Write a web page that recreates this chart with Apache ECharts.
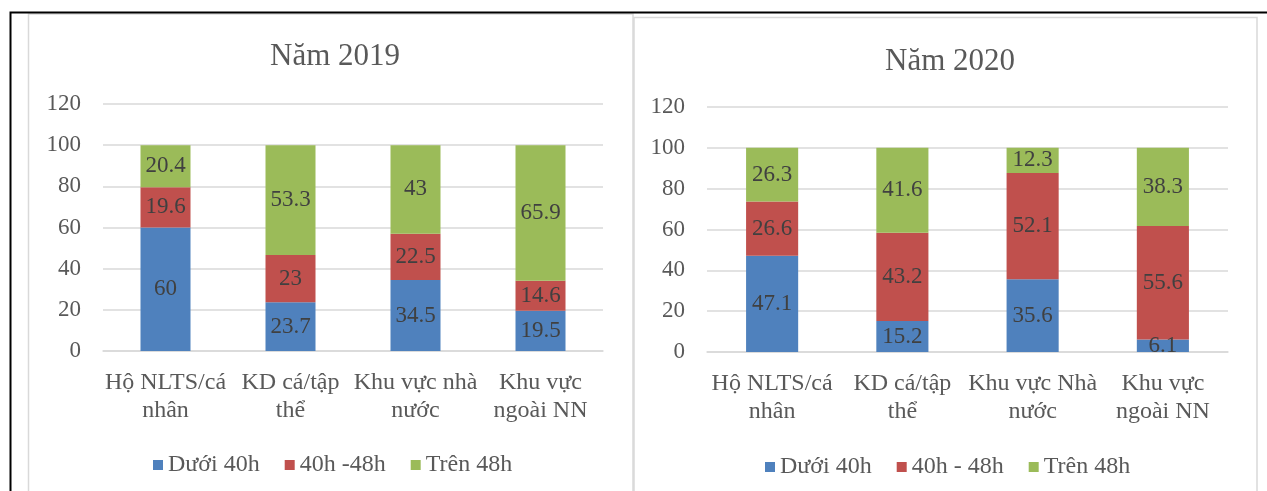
<!DOCTYPE html>
<html>
<head>
<meta charset="utf-8">
<script src="https://cdn.jsdelivr.net/npm/echarts@6/dist/echarts.min.js"></script>
<style>
  html, body { margin: 0; padding: 0; background: #fff; }
  #chart { width: 1267px; height: 491px; }
</style>
</head>
<body>
<div id="chart"></div>
<script>
// dữ liệu
const categories2019 = ["Hộ NLTS/cá\nnhân", "KD cá/tập\nthể", "Khu vực nhà\nnước", "Khu vực\nngoài NN"];
const categories2020 = ["Hộ NLTS/cá\nnhân", "KD cá/tập\nthể", "Khu vực Nhà\nnước", "Khu vực\nngoài NN"];
const names2019 = ["Dưới 40h", "40h -48h", "Trên 48h"];
const names2020 = ["Dưới 40h", "40h - 48h", "Trên 48h"];
const duoi40_2019 = [60, 23.7, 34.5, 19.5];
const tu40den48_2019 = [19.6, 23, 22.5, 14.6];
const tren48_2019 = [20.4, 53.3, 43, 65.9];
const duoi40_2020 = [47.1, 15.2, 35.6, 6.1];
const tu40den48_2020 = [26.6, 43.2, 52.1, 55.6];
const tren48_2020 = [26.3, 41.6, 12.3, 38.3];
const yTicks = { min: 0, max: 120, interval: 20 };

const colors = ["#4F81BD", "#C0504D", "#9BBB59"];
const font = "'Liberation Serif', 'Times New Roman', serif";
const gray = "#595959";

function barSeries(name, data, idx, stack, axis) {
  return {
    type: "bar",
    name: name,
    stack: stack,
    xAxisIndex: axis,
    yAxisIndex: axis,
    barWidth: "40%",
    data: data,
    itemStyle: { color: colors[idx] },
    label: {
      show: true,
      position: "inside",
      color: "#404040",
      fontSize: 23,
      fontFamily: font,
    },
  };
}

function yAxis(grid) {
  return {
    type: "value",
    gridIndex: grid,
    min: yTicks.min,
    max: yTicks.max,
    interval: yTicks.interval,
    axisLine: { show: false },
    axisTick: { show: false },
    axisLabel: { color: gray, fontSize: 23, fontFamily: font, margin: 22 },
    splitLine: { lineStyle: { color: "#d9d9d9", width: 1.5 } },
  };
}

function xAxis(grid, cats) {
  return {
    type: "category",
    gridIndex: grid,
    data: cats,
    axisLine: { lineStyle: { color: "#d9d9d9", width: 1.5 } },
    axisTick: { show: false },
    axisLabel: {
      color: gray,
      fontSize: 24,
      fontFamily: font,
      lineHeight: 28,
      margin: 18,
      interval: 0,
    },
  };
}

const chart = echarts.init(document.getElementById("chart"));
chart.setOption({
  animation: false,
  title: [
    {
      text: "Năm 2019",
      left: 330,
      top: 36,
      textAlign: "center",
      textStyle: { color: gray, fontSize: 31, fontWeight: "normal", fontFamily: font },
    },
    {
      text: "Năm 2020",
      left: 945,
      top: 41,
      textAlign: "center",
      textStyle: { color: gray, fontSize: 31, fontWeight: "normal", fontFamily: font },
    },
  ],
  legend: [
    {
      data: names2019,
      left: 148,
      top: 448,
      itemWidth: 10,
      itemHeight: 10,
      itemGap: 25,
      icon: "rect",
      textStyle: { color: gray, fontSize: 24, fontFamily: font },
    },
    {
      data: names2020,
      left: 760,
      top: 450,
      itemWidth: 10,
      itemHeight: 10,
      itemGap: 25,
      icon: "rect",
      textStyle: { color: gray, fontSize: 24, fontFamily: font },
    },
  ],
  grid: [
    { left: 103, right: 664, top: 104, bottom: 140 },
    { left: 707, right: 39, top: 107, bottom: 139 },
  ],
  xAxis: [xAxis(0, categories2019), xAxis(1, categories2020)],
  yAxis: [yAxis(0), yAxis(1)],
  series: [
    barSeries(names2019[0], duoi40_2019, 0, "a", 0),
    barSeries(names2019[1], tu40den48_2019, 1, "a", 0),
    barSeries(names2019[2], tren48_2019, 2, "a", 0),
    barSeries(names2020[0], duoi40_2020, 0, "b", 1),
    barSeries(names2020[1], tu40den48_2020, 1, "b", 1),
    barSeries(names2020[2], tren48_2020, 2, "b", 1),
  ],
  graphic: [
    // khung
    {
      type: "rect",
      shape: { x: 28.5, y: 14, width: 604.5, height: 500 },
      style: { fill: "none", stroke: "#d9d9d9", lineWidth: 1.5 },
    },
    {
      type: "rect",
      shape: { x: 634, y: 17.5, width: 623, height: 500 },
      style: { fill: "none", stroke: "#d9d9d9", lineWidth: 1.5 },
    },
    {
      type: "polyline",
      shape: { points: [[10.5, 491], [10.5, 12.5], [1267, 12.5]] },
      style: { fill: "none", stroke: "#000", lineWidth: 2 },
    },
  ],
});
</script>
</body>
</html>
